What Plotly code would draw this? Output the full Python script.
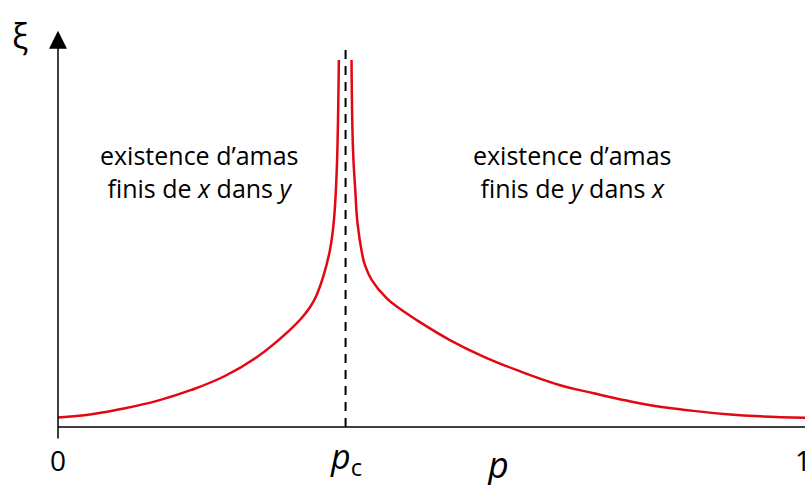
import plotly.graph_objects as go

# branche gauche (p < pc) et branche droite (p > pc)
p_left = [0.0, 0.045, 0.090, 0.134, 0.179, 0.224, 0.268, 0.304, 0.327, 0.337,
          0.345, 0.356, 0.365, 0.370, 0.373, 0.375, 0.377]
xi_left = [0.26, 0.35, 0.51, 0.72, 1.01, 1.39, 1.92, 2.51, 2.97, 3.23,
           3.50, 4.10, 4.82, 5.56, 6.46, 7.55, 10.0]

p_right = [0.394, 0.396, 0.399, 0.402, 0.408, 0.412, 0.421, 0.441, 0.459, 0.481,
           0.526, 0.571, 0.616, 0.674, 0.719, 0.763, 0.808, 0.853, 0.898,
           0.942, 1.003]
xi_right = [10.0, 7.55, 6.46, 5.56, 4.74, 4.41, 4.01, 3.51, 3.22, 2.92,
            2.37, 1.92, 1.55, 1.14, 0.92, 0.72, 0.55, 0.44, 0.35,
            0.29, 0.25]

PC = 0.386
PC_TOP = 10.3
tick_vals = [0, 1]
tick_text = ["0", "1"]

RED = "#e30613"
FONT = "Open Sans"

X_RANGE = [-0.02416, 1.00268]
Y_RANGE = [-0.49, 11.09]

fig = go.Figure()

fig.add_trace(go.Scatter(x=[PC, PC], y=[0, PC_TOP], mode="lines",
                         line=dict(color="black", width=2, dash="9px,7px")))
fig.add_trace(go.Scatter(x=p_left, y=xi_left, mode="lines",
                         line=dict(color=RED, width=2.5, shape="spline", smoothing=1.2)))
fig.add_trace(go.Scatter(x=p_right, y=xi_right, mode="lines",
                         line=dict(color=RED, width=2.5, shape="spline", smoothing=1.2)))

# axe des p
fig.add_shape(type="line", xref="x", yref="y", x0=0, x1=X_RANGE[1], y0=0, y1=0,
              line=dict(color="black", width=1.5))

annotations = [
    # axe des xi avec sa fleche
    dict(x=0, y=10.8, ax=0, ay=-0.354, xref="x", yref="y", axref="x", ayref="y",
         text="", showarrow=True, arrowhead=2, arrowsize=2.4, arrowwidth=1.5,
         arrowcolor="black"),
    dict(x=-0.026, y=0.965, xref="paper", yref="paper", text="ξ", showarrow=False,
         xanchor="center", yanchor="middle",
         font=dict(family=FONT, size=34, color="black")),
    dict(x=0.59, y=-0.046, xref="x", yref="paper", text="<i>p</i>", showarrow=False,
         yanchor="middle", font=dict(family=FONT, size=36, color="black")),
    dict(x=PC, y=-0.03, xref="x", yref="paper", text="<i>p</i><sub>c</sub>",
         showarrow=False, yanchor="middle",
         font=dict(family=FONT, size=34, color="black")),
    dict(x=0.19, y=6.95, xref="x", yref="y",
         text="existence d’amas<br>finis de <i>x</i> dans <i>y</i>", showarrow=False,
         font=dict(family=FONT, size=25, color="black")),
    dict(x=0.69, y=6.95, xref="x", yref="y",
         text="existence d’amas<br>finis de <i>y</i> dans <i>x</i>", showarrow=False,
         font=dict(family=FONT, size=25, color="black")),
]
for v, t in zip(tick_vals, tick_text):
    annotations.append(dict(x=v, y=-0.035, xref="x", yref="paper", text=t,
                            showarrow=False, yanchor="middle",
                            font=dict(family=FONT, size=28, color="black")))

fig.update_layout(
    width=805, height=485,
    margin=dict(l=40, r=0, t=20, b=40),
    plot_bgcolor="white", paper_bgcolor="white",
    showlegend=False,
    annotations=annotations,
    xaxis=dict(range=X_RANGE, visible=False, fixedrange=True),
    yaxis=dict(range=Y_RANGE, visible=False, fixedrange=True),
)

fig.write_html("out.html", config={"displayModeBar": False},
               post_script="document.body.style.margin='0';")
